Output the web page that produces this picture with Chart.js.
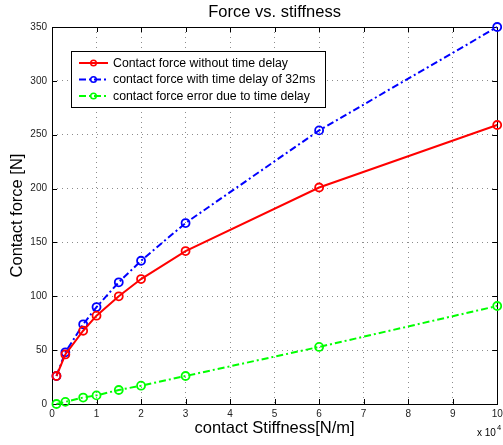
<!DOCTYPE html>
<html><head><meta charset="utf-8">
<script src="https://cdn.jsdelivr.net/npm/chart.js@4/dist/chart.umd.min.js"></script>
<style>html,body{margin:0;padding:0;background:#fff;}canvas{display:block}</style>
</head><body>
<canvas id="c" width="503" height="445"></canvas>
<script>
// Data (stiffness in units of 10^4 N/m, force in N)
const stiffness = [0.1, 0.3, 0.7, 1, 1.5, 2, 3, 6, 10];
const forceNoDelay = [26, 46, 68, 82, 100, 116, 142, 201, 259];
const forceDelay = [26, 48, 74, 90, 113, 133, 168, 254, 350];
const forceError = [0, 2, 6, 8, 13, 17, 26, 53, 91];
const xTickValues = [0, 1, 2, 3, 4, 5, 6, 7, 8, 9, 10];
const yTickValues = [0, 50, 100, 150, 200, 250, 300, 350];
const seriesLabels = [
  'Contact force without time delay',
  'contact force with time delay of 32ms',
  'contact force error due to time delay'
];
const chartTitle = 'Force vs. stiffness';
const xTitle = 'contact Stiffness[N/m]';
const yTitle = 'Contact force [N]';
const xExponent = '4';

const FONT = "'Liberation Sans', Arial, Helvetica, sans-serif";
const DASHDOT = [7, 3, 2, 3];

function pts(ys) { return stiffness.map((x, i) => ({x: x, y: ys[i]})); }
function ds(label, ys, color, dash) {
  return {
    label: label, data: pts(ys), borderColor: color, backgroundColor: 'rgba(0,0,0,0)',
    borderWidth: 2, borderDash: dash, pointRadius: 4, pointHoverRadius: 4,
    pointBorderWidth: 1.8, pointBorderColor: color, pointBackgroundColor: 'rgba(0,0,0,0)',
    tension: 0, fill: false, clip: false
  };
}

const framePlugin = {
  id: 'frame',
  beforeDatasetsDraw(chart) {
    const {ctx, chartArea: a, scales: {x, y}} = chart;
    ctx.save();
    ctx.strokeStyle = '#000'; ctx.lineWidth = 1;
    ctx.strokeRect(Math.round(a.left) + 0.5, Math.round(a.top) + 0.5,
      Math.round(a.right - a.left), Math.round(a.bottom - a.top));
    ctx.beginPath();
    const L = 5;
    xTickValues.forEach(v => {
      const px = Math.round(x.getPixelForValue(v)) + 0.5;
      ctx.moveTo(px, a.bottom); ctx.lineTo(px, a.bottom - L);
      ctx.moveTo(px, a.top); ctx.lineTo(px, a.top + L);
    });
    yTickValues.forEach(v => {
      const py = Math.round(y.getPixelForValue(v)) + 0.5;
      ctx.moveTo(a.left, py); ctx.lineTo(a.left + L, py);
      ctx.moveTo(a.right, py); ctx.lineTo(a.right - L, py);
    });
    ctx.stroke();
    ctx.restore();
  },
  afterDraw(chart) {
    const {ctx, chartArea: a} = chart;
    ctx.save();
    // Title
    ctx.fillStyle = '#000';
    ctx.font = '16.5px ' + FONT;
    ctx.textAlign = 'center'; ctx.textBaseline = 'middle';
    ctx.fillText(chartTitle, (a.left + a.right) / 2, 12.5);
    // exponent
    ctx.textAlign = 'left'; ctx.textBaseline = 'alphabetic';
    ctx.font = '10px ' + FONT;
    ctx.fillText('x 10', 477, 436);
    ctx.font = '7.5px ' + FONT;
    ctx.fillText(xExponent, 497, 430);
    // Legend
    const bx = 71.5, by = 51.5, bw = 254, bh = 56;
    ctx.fillStyle = '#fff';
    ctx.fillRect(bx, by, bw, bh);
    ctx.strokeStyle = '#000'; ctx.lineWidth = 1;
    ctx.strokeRect(bx, by, bw, bh);
    ctx.font = '12.3px ' + FONT;
    ctx.textBaseline = 'middle';
    chart.data.datasets.forEach((d, i) => {
      const ly = 63 + i * 16.5;
      ctx.strokeStyle = d.borderColor; ctx.lineWidth = 2;
      ctx.setLineDash(d.borderDash || []);
      ctx.beginPath(); ctx.moveTo(79, ly); ctx.lineTo(108, ly); ctx.stroke();
      ctx.setLineDash([]);
      ctx.lineWidth = 1.5;
      ctx.beginPath(); ctx.arc(93.5, ly, 2.8, 0, Math.PI * 2); ctx.stroke();
      ctx.fillStyle = '#000';
      ctx.fillText(d.label, 113, ly + 0.5);
    });
    ctx.restore();
  }
};

new Chart(document.getElementById('c'), {
  type: 'line',
  data: {
    datasets: [
      ds(seriesLabels[0], forceNoDelay, '#ff0000', []),
      ds(seriesLabels[1], forceDelay, '#0000ff', DASHDOT),
      ds(seriesLabels[2], forceError, '#00ff00', DASHDOT)
    ]
  },
  options: {
    responsive: false, animation: false, devicePixelRatio: 1,
    layout: {padding: {top: 27, right: 4, bottom: 0, left: 0}},
    plugins: {legend: {display: false}, title: {display: false}, tooltip: {enabled: false}},
    scales: {
      x: {
        type: 'linear', min: 0, max: 10,
        afterBuildTicks: s => { s.ticks = xTickValues.map(v => ({value: v})); },
        afterFit: s => { s.height = 41; s.paddingRight = 0; s.paddingLeft = 0; },
        grid: {color: 'rgba(0,0,0,0.45)', lineWidth: 1, drawTicks: false},
        border: {display: false, dash: [1, 4]},
        ticks: {color: '#222', font: {family: FONT, size: 10}, padding: 4, maxRotation: 0, autoSkip: false},
        title: {display: true, text: xTitle, color: '#000', font: {family: FONT, size: 16.5}, padding: {top: 0, bottom: 7}}
      },
      y: {
        type: 'linear', min: 0, max: 350,
        afterBuildTicks: s => { s.ticks = yTickValues.map(v => ({value: v})); },
        afterFit: s => { s.width = 52; s.paddingTop = 0; s.paddingBottom = 0; },
        grid: {color: 'rgba(0,0,0,0.45)', lineWidth: 1, drawTicks: false},
        border: {display: false, dash: [1, 4]},
        ticks: {color: '#222', font: {family: FONT, size: 10}, padding: 5, autoSkip: false},
        title: {display: true, text: yTitle, color: '#000', font: {family: FONT, size: 16.5}, padding: {top: 8, bottom: 0}}
      }
    }
  },
  plugins: [framePlugin]
});
</script>
</body></html>
